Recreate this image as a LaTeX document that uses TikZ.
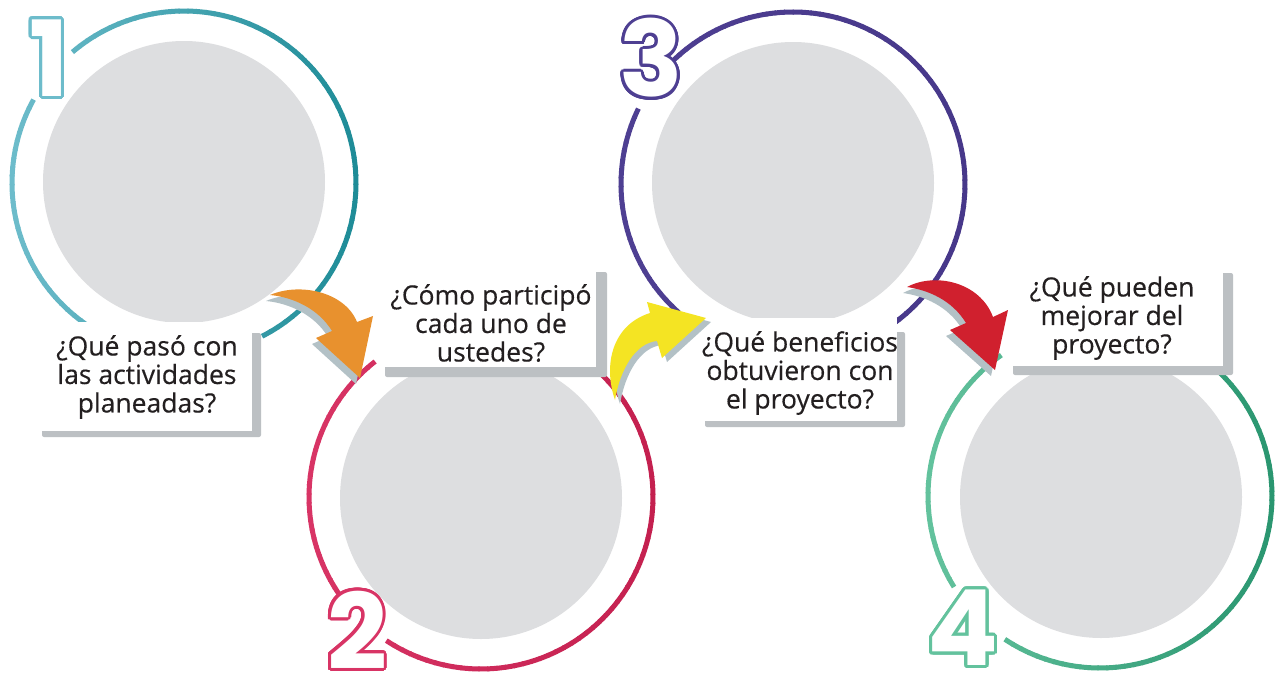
\documentclass[tikz,border=0pt]{standalone}
\usepackage{fontspec}
\setmainfont{Open Sans}[FakeBold=0.35]
\newfontfamily\numfont{Poppins}
\usetikzlibrary{calc}
\definecolor{photoGray}{HTML}{DDDEE0}
\definecolor{shadowGray}{HTML}{BCC0C3}
\definecolor{arrowShadow}{HTML}{B3C1C6}
\definecolor{textDark}{HTML}{231F20}
\definecolor{tealL}{HTML}{6DBCCB}
\definecolor{tealD}{HTML}{1E8C97}
\definecolor{crimL}{HTML}{D83465}
\definecolor{crimD}{HTML}{C4204F}
\definecolor{purpL}{HTML}{4E3F92}
\definecolor{purpD}{HTML}{47388A}
\definecolor{greenL}{HTML}{63C29D}
\definecolor{greenD}{HTML}{2A9670}
\definecolor{orangeC}{HTML}{E8912E}
\definecolor{yellowC}{HTML}{F4E423}
\definecolor{redC}{HTML}{D0202E}
\tikzset{
  ring/.style={line width=5pt, line cap=butt},
  photo/.style={circle, fill=photoGray, minimum size=282pt, inner sep=0pt},
  numstyle/.style={font=\numfont\bfseries\fontsize{105}{105}\selectfont, inner sep=0pt},
  qtext/.style={font=\fontsize{26.5}{28.5}\selectfont, text=textDark, align=center, inner sep=0pt},
  boxshadow/.style={fill=shadowGray, rounded corners=2pt},
  boxwhite/.style={fill=white},
  orangeArrow/.pic={\fill[pic actions] (270,295) .. controls (300,282) and (345,292) .. (357,322)
      -- (373,316) -- (360,378) -- (316,338) -- (332,331) .. controls (318,308) and (292,297) .. cycle;},
  redArrow/.pic={\fill[pic actions] (907,287) .. controls (935,272) and (980,282) .. (993,317)
      -- (1008,310) -- (995,370) -- (950,330) -- (966,323) .. controls (952,300) and (928,290) .. cycle;},
  yellowArrow/.pic={\fill[pic actions] (615,400) .. controls (603,365) and (612,325) .. (650,313)
      -- (647,302) -- (706,318) -- (662,358) -- (657,341) .. controls (635,343) and (620,370) .. cycle;},
}
% #1 centre, #2 start angle, #3 end angle, #4 light colour, #5 dark colour
\newcommand\ringarc[5]{%
  \pgfmathtruncatemacro\myNseg{int(abs((#3)-(#2))/3)+1}%
  \pgfmathsetmacro\myDelta{((#3)-(#2))/\myNseg}%
  \pgfmathsetmacro\myDeltaX{1.15*\myDelta}%
  \foreach \i in {1,...,\myNseg}{%
    \pgfmathsetmacro\myA{(#2)+\myDelta*(\i-1)}%
    \pgfmathsetmacro\myM{\myA+0.5*\myDelta}%
    \pgfmathtruncatemacro\myPc{round(50*(1+cos(\myM)))}%
    \draw[ring, draw=#5!\myPc!#4] (#1) ++(\myA:172) arc[start angle=\myA, delta angle=\myDeltaX, radius=172];
  }}
% #1 name, #2 position, #3 colour, #4 digit
\newcommand\bignum[4]{%
  \foreach \k in {0,15,...,345}{\node[numstyle, text=#3] at ($(#2)+(\k:3.0)$) {#4};}
  \node[numstyle, text=white] (#1) at (#2) {#4};}
\begin{document}
\begin{tikzpicture}[x=1pt, y=-1pt]
\useasboundingbox (0,0) rectangle (1278,678);
\fill[white] (0,0) rectangle (1278,678);
% photo discs
\node[photo] (c1) at (184,182) {};
\node[photo] (c2) at (481,498) {};
\node[photo] (c3) at (793,183) {};
\node[photo] (c4) at (1101,497) {};
% rings
\coordinate (r1) at (184,183);
\coordinate (r2) at (481,497);
\coordinate (r3) at (793,184);
\coordinate (r4) at (1100,496);
\ringarc{r1}{63}{-130}{tealL}{tealD}
\ringarc{r1}{-151}{-236}{tealL}{tealD}
\ringarc{r2}{123.4}{-45}{crimL}{crimD}
\ringarc{r2}{-128}{-214.6}{crimL}{crimD}
\ringarc{r3}{55}{-134}{purpL}{purpD}
\ringarc{r3}{-154}{-228}{purpL}{purpD}
\ringarc{r4}{123.6}{-46}{greenL}{greenD}
\ringarc{r4}{-125}{-211.5}{greenL}{greenD}
% numbers
\bignum{n1}{49,58}{tealL}{1}
\bignum{n2}{357,630}{crimL}{2}
\bignum{n3}{651,58}{purpL}{3}
\bignum{n4}{963,628}{greenL}{4}
% text boxes
\fill[boxshadow] (42,333) rectangle (261,437);
\fill[boxwhite] (42,322) rectangle (252,431);
\fill[boxshadow] (385,272) rectangle (607,377);
\fill[boxwhite] (385,262) rectangle (596,367);
\fill[boxshadow] (705,332) rectangle (905,427);
\fill[boxwhite] (705,318) rectangle (897,421);
\fill[boxshadow] (1013,273) rectangle (1233,375);
\fill[boxwhite] (1013,258) rectangle (1223,366);
\node[qtext] (q1) at (147,377) {¿Qué pasó con\\las actividades\\planeadas?};
\node[qtext] (q2) at (491,323) {¿Cómo participó\\cada uno de\\ustedes?};
\node[qtext] (q3) at (800,373) {¿Qué beneficios\\obtuvieron con\\el proyecto?};
\node[qtext] (q4) at (1112,318) {¿Qué pueden\\mejorar del\\proyecto?};
% arrows
\pic[fill=arrowShadow] at (-4,6) {orangeArrow};
\pic[fill=orangeC] at (0,0) {orangeArrow};
\pic[fill=arrowShadow] at (5,4) {yellowArrow};
\pic[fill=yellowC] at (0,0) {yellowArrow};
\pic[fill=arrowShadow] at (-4,6) {redArrow};
\pic[fill=redC] at (0,0) {redArrow};
\end{tikzpicture}
\end{document}
